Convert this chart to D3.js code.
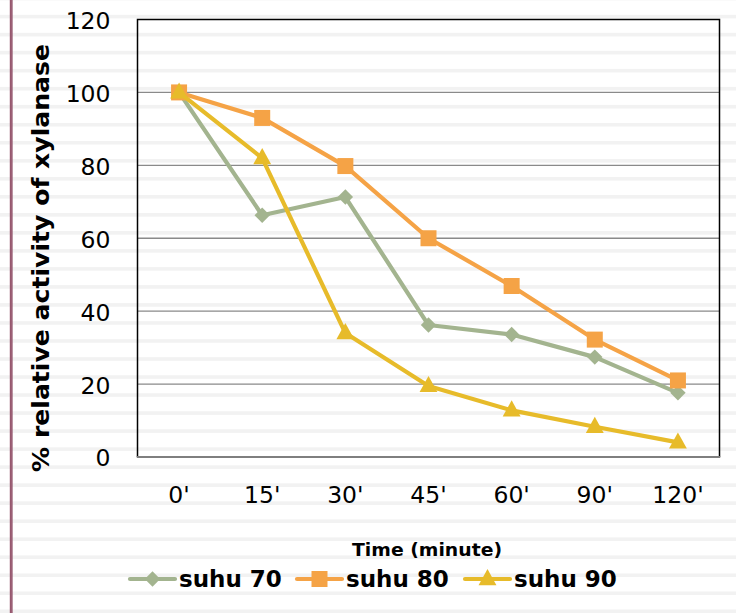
<!DOCTYPE html>
<html>
<head>
<meta charset="utf-8">
<script src="https://cdn.jsdelivr.net/npm/d3@7"></script>
<style>
  html, body { margin: 0; padding: 0; background: #fff; }
  svg { display: block; }
  text { font-family: "DejaVu Sans", "Lato", sans-serif; fill: #000; }
</style>
</head>
<body>
<svg id="chart" width="736" height="613"></svg>
<script>
// Time points and relative xylanase activity (%) per temperature
const categories = ["0'", "15'", "30'", "45'", "60'", "90'", "120'"];
const suhu70 = [100, 66.3, 71.3, 36.2, 33.6, 27.4, 17.6];
const suhu80 = [100, 93, 79.8, 60, 46.9, 32.2, 21];
const suhu90 = [100, 82, 34, 19.5, 12.8, 8.3, 4];
const seriesNames = ["suhu 70", "suhu 80", "suhu 90"];
const yTicks = [0, 20, 40, 60, 80, 100, 120];

const series = [
  { name: seriesNames[0], values: suhu70, color: "#a3b48f", marker: "diamond" },
  { name: seriesNames[1], values: suhu80, color: "#f5a346", marker: "square" },
  { name: seriesNames[2], values: suhu90, color: "#e7bb2a", marker: "triangle" }
];

const W = 736, H = 613;
const svg = d3.select("#chart");

// lined-paper background
const paper = svg.append("g");
paper.append("rect").attr("width", W).attr("height", H).attr("fill", "#fff");
const stripeYs = d3.range(-1.5, H + 18, 18.02);
paper.selectAll("rect.stripe").data(stripeYs).join("rect")
  .attr("class", "stripe")
  .attr("x", 0).attr("width", W)
  .attr("y", d => d - 1.7).attr("height", 3.6)
  .attr("fill", "#f2f2f2");
paper.append("rect")
  .attr("x", 9.8).attr("y", 0).attr("width", 2.8).attr("height", H)
  .attr("fill", "#8f4e67");
paper.append("rect")
  .attr("x", 10.6).attr("y", 0).attr("width", 1.2).attr("height", H)
  .attr("fill", "#a0667c");

const plot = { left: 137.5, top: 19.5, right: 719.5, bottom: 457 };

const x = d3.scaleBand().domain(categories)
  .range([plot.left, plot.right]).paddingInner(0).paddingOuter(0);
const y = d3.scaleLinear().domain([0, 120]).range([plot.bottom, plot.top]);
const cx = c => x(c) + x.bandwidth() / 2;

// horizontal gridlines
svg.append("g")
  .selectAll("line").data(yTicks.filter(t => t > 0 && t < 120)).join("line")
  .attr("x1", plot.left).attr("x2", plot.right)
  .attr("y1", d => y(d)).attr("y2", d => y(d))
  .attr("stroke", "#8a8a8a").attr("stroke-width", 1.3);

// plot frame
svg.append("path")
  .attr("d", `M${plot.left},${plot.bottom} V${plot.top} H${plot.right} V${plot.bottom}`)
  .attr("fill", "none").attr("stroke", "#000").attr("stroke-width", 1.5);
svg.append("line")
  .attr("x1", plot.left - 0.75).attr("x2", plot.right + 0.75)
  .attr("y1", plot.bottom).attr("y2", plot.bottom)
  .attr("stroke", "#7f7f7f").attr("stroke-width", 1.8);

// y axis labels
const yAxis = d3.axisLeft(y).tickValues(yTicks).tickSize(0).tickPadding(27);
const gy = svg.append("g").attr("transform", `translate(${plot.left},0)`).call(yAxis);
gy.select(".domain").remove();
gy.selectAll("text").style("font-size", "23.5px").attr("dy", "0.38em");

// x axis labels
const xAxis = d3.axisBottom(x).tickSize(0).tickPadding(29);
const gx = svg.append("g").attr("transform", `translate(0,${plot.bottom})`).call(xAxis);
gx.select(".domain").remove();
gx.selectAll("text").style("font-size", "23.5px");

// axis titles
svg.append("text")
  .attr("transform", `translate(49,258) rotate(-90)`)
  .attr("text-anchor", "middle")
  .style("font-size", "23.5px").style("font-weight", "bold")
  .attr("textLength", 428).attr("lengthAdjust", "spacingAndGlyphs")
  .text("% relative activity of xylanase");
svg.append("text")
  .attr("x", 427).attr("y", 556)
  .attr("text-anchor", "middle")
  .style("font-size", "18px").style("font-weight", "bold")
  .attr("textLength", 150).attr("lengthAdjust", "spacingAndGlyphs")
  .text("Time (minute)");

// marker shapes
function markerPath(type, s) {
  if (type === "diamond") { const r = s * 0.55; return `M0,${-r} L${r},0 L0,${r} L${-r},0 Z`; }
  if (type === "square") { const r = s / 2; return `M${-r},${-r} H${r} V${r} H${-r} Z`; }
  const h = s * 0.95, w = s * 1.05;
  return `M0,${-h * 0.62} L${w / 2},${h * 0.38} L${-w / 2},${h * 0.38} Z`;
}
const markerSize = { diamond: 14, square: 16, triangle: 17 };

const line = d3.line().x((d, i) => cx(categories[i])).y(d => y(d));

series.forEach(s => {
  const g = svg.append("g");
  g.append("path").datum(s.values)
    .attr("d", line)
    .attr("fill", "none").attr("stroke", s.color)
    .attr("stroke-width", 4.2).attr("stroke-linejoin", "round");
  g.selectAll("path.m").data(s.values).join("path")
    .attr("class", "m")
    .attr("transform", (d, i) => `translate(${cx(categories[i])},${y(d)})`)
    .attr("d", markerPath(s.marker, markerSize[s.marker]))
    .attr("fill", s.color);
});

// legend
const legendX = [130, 297, 465];
const legendY = 579;
series.forEach((s, i) => {
  const g = svg.append("g").attr("transform", `translate(${legendX[i]},${legendY})`);
  g.append("line").attr("x1", 0).attr("x2", 45).attr("y1", 0).attr("y2", 0)
    .attr("stroke", s.color).attr("stroke-width", 4.2).attr("stroke-linecap", "round");
  g.append("path").attr("transform", "translate(22.5,0)")
    .attr("d", markerPath(s.marker, markerSize[s.marker])).attr("fill", s.color);
  g.append("text").attr("x", 49).attr("y", 0).attr("dy", "0.36em")
    .style("font-size", "23px").style("font-weight", "bold")
    .text(s.name);
});
</script>
</body>
</html>
